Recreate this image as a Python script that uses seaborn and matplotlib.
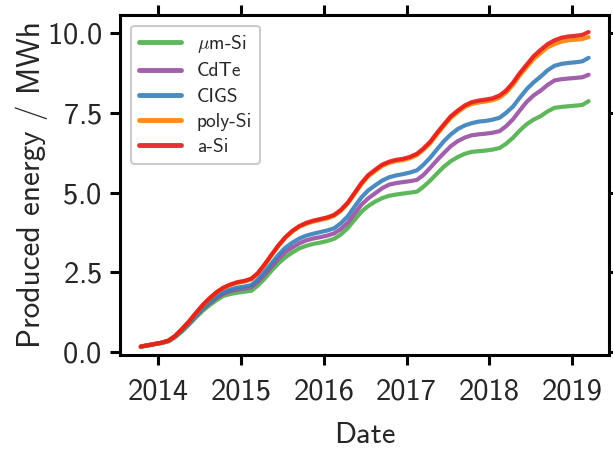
import pandas as pd
import matplotlib
matplotlib.use("Agg")
import matplotlib.pyplot as plt
import matplotlib.dates as mdates
import seaborn as sns

# monthly readings (mid-month) of the cumulative energy, Oct 2013 .. Mar 2019
months = pd.date_range("2013-10-01", "2019-03-01", freq="MS") + pd.Timedelta(days=14)

um_si = [0.16, 0.20, 0.24,
         0.28, 0.33, 0.46, 0.64, 0.85, 1.08, 1.29, 1.47, 1.63, 1.76, 1.82, 1.86,
         1.89, 1.92, 2.08, 2.30, 2.55, 2.78, 2.97, 3.12, 3.25, 3.33, 3.39, 3.43,
         3.48, 3.55, 3.68, 3.88, 4.14, 4.40, 4.58, 4.72, 4.83, 4.90, 4.94, 4.97,
         5.00, 5.03, 5.18, 5.38, 5.60, 5.82, 5.99, 6.12, 6.22, 6.28, 6.30, 6.32,
         6.35, 6.40, 6.53, 6.72, 6.95, 7.15, 7.29, 7.40, 7.55, 7.66, 7.69, 7.71,
         7.73, 7.75, 7.87]
cdte = [0.17, 0.21, 0.25,
        0.29, 0.35, 0.48, 0.67, 0.89, 1.12, 1.34, 1.53, 1.70, 1.83, 1.91, 1.96,
        1.99, 2.04, 2.20, 2.43, 2.68, 2.93, 3.13, 3.28, 3.41, 3.50, 3.56, 3.60,
        3.65, 3.72, 3.85, 4.05, 4.33, 4.62, 4.82, 4.98, 5.14, 5.25, 5.30, 5.33,
        5.36, 5.40, 5.55, 5.78, 6.02, 6.25, 6.46, 6.62, 6.73, 6.80, 6.83, 6.85,
        6.88, 6.93, 7.08, 7.30, 7.58, 7.85, 8.05, 8.20, 8.38, 8.52, 8.56, 8.58,
        8.60, 8.62, 8.70]
cigs = [0.17, 0.21, 0.25,
        0.29, 0.35, 0.48, 0.68, 0.90, 1.14, 1.37, 1.57, 1.75, 1.88, 1.96, 2.02,
        2.05, 2.10, 2.27, 2.52, 2.78, 3.05, 3.27, 3.43, 3.56, 3.65, 3.71, 3.76,
        3.81, 3.88, 4.03, 4.25, 4.55, 4.85, 5.07, 5.23, 5.38, 5.48, 5.54, 5.58,
        5.63, 5.70, 5.87, 6.10, 6.36, 6.62, 6.83, 7.00, 7.11, 7.18, 7.23, 7.25,
        7.29, 7.35, 7.50, 7.70, 7.98, 8.25, 8.46, 8.64, 8.84, 8.98, 9.04, 9.07,
        9.09, 9.12, 9.23]
poly_si = [0.17, 0.21, 0.25,
           0.29, 0.36, 0.50, 0.72, 0.95, 1.21, 1.46, 1.68, 1.87, 2.01, 2.10, 2.17,
           2.21, 2.28, 2.45, 2.73, 3.03, 3.33, 3.58, 3.78, 3.93, 4.02, 4.09, 4.14,
           4.19, 4.27, 4.42, 4.65, 4.95, 5.26, 5.51, 5.68, 5.84, 5.93, 5.99, 6.02,
           6.08, 6.18, 6.34, 6.55, 6.83, 7.10, 7.35, 7.53, 7.69, 7.78, 7.83, 7.86,
           7.90, 7.98, 8.13, 8.38, 8.68, 8.94, 9.19, 9.38, 9.56, 9.66, 9.74, 9.78,
           9.80, 9.82, 9.88]
a_si = [0.17, 0.21, 0.25,
        0.29, 0.36, 0.50, 0.72, 0.95, 1.22, 1.47, 1.69, 1.88, 2.02, 2.12, 2.19,
        2.23, 2.30, 2.47, 2.75, 3.05, 3.35, 3.60, 3.80, 3.95, 4.05, 4.12, 4.17,
        4.22, 4.30, 4.45, 4.68, 4.98, 5.30, 5.55, 5.72, 5.88, 5.97, 6.03, 6.06,
        6.12, 6.22, 6.38, 6.60, 6.88, 7.15, 7.40, 7.58, 7.74, 7.84, 7.89, 7.92,
        7.96, 8.05, 8.20, 8.45, 8.75, 9.02, 9.28, 9.48, 9.66, 9.78, 9.86, 9.90,
        9.92, 9.95, 10.04]

labels = [r"$\mu$m-Si", "CdTe", "CIGS", "poly-Si", "a-Si"]
series = [um_si, cdte, cigs, poly_si, a_si]

set1 = sns.color_palette("Set1")
colors = dict(zip(labels, [set1[2], set1[3], set1[1], set1[4], set1[0]]))

frames = []
for lab, vals in zip(labels, series):
    frames.append(pd.DataFrame({"Date": months, "Energy": vals, "Tech": lab}))
df = pd.concat(frames, ignore_index=True)

sns.set_style("ticks")
plt.rcParams["font.family"] = ["cmss10", "DejaVu Sans"]
plt.rcParams["mathtext.fontset"] = "cm"
plt.rcParams["axes.formatter.use_mathtext"] = True
plt.rcParams["axes.unicode_minus"] = False

fig = plt.figure(figsize=(6.13, 4.49), dpi=100)
ax = fig.add_axes([0.196, 0.209, 0.7975, 0.758])

sns.lineplot(data=df, x="Date", y="Energy", hue="Tech", hue_order=labels,
             palette=colors, linewidth=3.0, alpha=0.9, ax=ax)

ax.set_xlim(pd.Timestamp("2013-07-16"), pd.Timestamp("2019-06-13"))
ax.set_ylim(-0.1, 10.58)
ax.set_yticks([0, 2.5, 5, 7.5, 10])
ax.xaxis.set_major_locator(mdates.YearLocator())
ax.xaxis.set_major_formatter(mdates.DateFormatter("%Y"))

ax.set_xlabel("Date", fontsize=22, labelpad=12)
ax.set_ylabel("Produced energy / MWh", fontsize=22.5, labelpad=-1)
ax.tick_params(axis="both", which="major", labelsize=22, direction="out",
               length=7, width=2.2, top=True, right=True, color="black")
ax.tick_params(axis="x", pad=10)
ax.tick_params(axis="y", pad=6)
for sp in ax.spines.values():
    sp.set_linewidth(2.2)
    sp.set_color("black")

leg = ax.legend(loc="upper left", fontsize=14, handlelength=2.2, frameon=True,
                fancybox=True, edgecolor="#cccccc", framealpha=1.0,
                labelspacing=0.37, borderaxespad=0.55)
leg.get_frame().set_linewidth(1.5)
for line in leg.get_lines():
    line.set_linewidth(3.5)

fig.savefig("out.png", dpi=100)
